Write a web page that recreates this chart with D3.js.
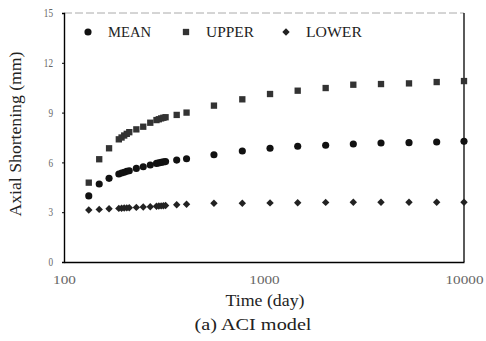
<!DOCTYPE html>
<html><head><meta charset="utf-8">
<script src="https://cdn.jsdelivr.net/npm/d3@7"></script>
<style>body{margin:0;background:#fff;} svg{display:block;}</style>
</head><body>
<svg id="c" width="486" height="341"></svg>
<script>
const days  = [133,150,168,188,194,200,206,212,230,249,270,290,298,306,314,322,366,410,562,779,1072,1474,2034,2796,3846,5309,7302,10000];
const mean  = [3.98,4.70,5.04,5.30,5.36,5.41,5.46,5.50,5.64,5.74,5.84,5.94,5.97,6.00,6.03,6.05,6.14,6.22,6.46,6.69,6.85,6.97,7.03,7.11,7.17,7.19,7.23,7.27];
const upper = [4.78,6.19,6.85,7.39,7.50,7.62,7.72,7.82,7.99,8.15,8.39,8.55,8.60,8.65,8.69,8.72,8.86,9.00,9.42,9.80,10.12,10.32,10.48,10.68,10.72,10.76,10.84,10.90];
const lower = [3.13,3.17,3.21,3.23,3.24,3.25,3.26,3.27,3.29,3.31,3.33,3.36,3.37,3.38,3.39,3.40,3.45,3.48,3.54,3.54,3.56,3.57,3.59,3.60,3.60,3.60,3.60,3.60];
const xTicks = [100,1000,10000];
const yTicks = [0,3,6,9,12,15];
const seriesNames = ["MEAN","UPPER","LOWER"];

const svg = d3.select("#c");
const L=64,R=464,T=13,B=262;
const x = d3.scaleLog().domain([100,10000]).range([L,R]);
const y = d3.scaleLinear().domain([0,15]).range([B,T]);
const font = "'Liberation Serif','Times New Roman',serif";

// frame
svg.append("line").attr("x1",L).attr("x2",R).attr("y1",T).attr("y2",T).attr("stroke","#aaa").attr("stroke-width",1).attr("stroke-dasharray","8,3");
svg.append("line").attr("x1",R).attr("x2",R).attr("y1",T).attr("y2",B).attr("stroke","#000").attr("stroke-width",1.3);

const xa = svg.append("g").attr("transform",`translate(0,${B})`)
  .call(d3.axisBottom(x).tickValues(xTicks).tickFormat(d3.format("d")).tickSize(0).tickPadding(13));
const ya = svg.append("g").attr("transform",`translate(${L},0)`)
  .call(d3.axisLeft(y).tickValues(yTicks).tickSize(2).tickPadding(9));
[xa,ya].forEach(g=>{
  g.select(".domain").attr("stroke","#000").attr("stroke-width",1.4);
  g.selectAll(".tick line").attr("stroke","#000");
  g.selectAll("text").attr("font-family",font).attr("fill","#666");
});
xa.selectAll("text").attr("font-size",12.5)
  .attr("textLength",d=>String(d).length*7.6).attr("lengthAdjust","spacingAndGlyphs");
ya.selectAll("text").attr("font-size",11.5)
  .attr("textLength",d=>String(d).length*4.6).attr("lengthAdjust","spacingAndGlyphs");

svg.append("text").attr("transform",`translate(21,134) rotate(-90)`).attr("text-anchor","middle")
  .attr("font-family",font).attr("font-size",16).attr("fill","#222")
  .attr("textLength",165).attr("lengthAdjust","spacingAndGlyphs").text("Axial Shortening (mm)");
svg.append("text").attr("x",265).attr("y",306).attr("text-anchor","middle")
  .attr("font-family",font).attr("font-size",17).attr("fill","#222")
  .attr("textLength",79).attr("lengthAdjust","spacingAndGlyphs").text("Time (day)");
svg.append("text").attr("x",253).attr("y",330).attr("text-anchor","middle")
  .attr("font-family",font).attr("font-size",16).attr("fill","#222")
  .attr("textLength",117).attr("lengthAdjust","spacingAndGlyphs").text("(a) ACI model");

const diamond = {draw(ctx,size){const r=Math.sqrt(size)/2*1.05;ctx.moveTo(0,-r);ctx.lineTo(r,0);ctx.lineTo(0,r);ctx.lineTo(-r,0);ctx.closePath();}};
const sym = [d3.symbolCircle, d3.symbolSquare, diamond];
const sizes = [40, 40, 50];
const fills = ["#111","#333","#222"];
const data = [mean, upper, lower];
data.forEach((vals,i)=>{
  svg.append("g").selectAll("path").data(vals).join("path")
    .attr("transform",(d,j)=>`translate(${x(days[j])},${y(d)})`)
    .attr("d",d3.symbol().type(sym[i]).size(sizes[i]))
    .attr("fill",fills[i]);
});

// legend
const legX=[88,186,286];
const legW=[43,48,56];
seriesNames.forEach((n,i)=>{
  svg.append("path").attr("transform",`translate(${legX[i]},32)`)
    .attr("d",d3.symbol().type(sym[i]).size(sizes[i])).attr("fill",fills[i]);
  svg.append("text").attr("x",legX[i]+20).attr("y",37).attr("font-family",font)
    .attr("font-size",14).attr("fill","#222")
    .attr("textLength",legW[i]).attr("lengthAdjust","spacingAndGlyphs").text(n);
});
</script>
</body></html>
